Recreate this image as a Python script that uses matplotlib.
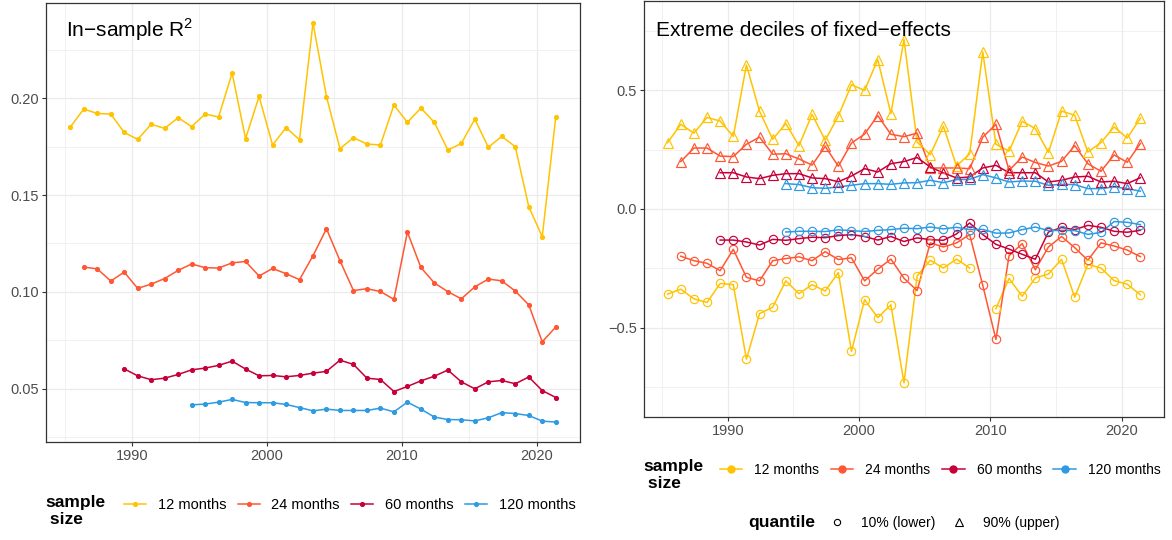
import numpy as np
import matplotlib
matplotlib.use("Agg")
import matplotlib.pyplot as plt
from matplotlib.lines import Line2D

plt.rcParams["font.family"] = ["Liberation Sans", "DejaVu Sans"]
plt.rcParams["mathtext.fontset"] = "custom"
plt.rcParams["mathtext.rm"] = "Liberation Sans"

# ---- data ----
sizes = ["12 months", "24 months", "60 months", "120 months"]
colors = ["#FFC300", "#FF5733", "#C70039", "#2E9AE2"]
first_year = [1985, 1986, 1989, 1994]

r2_12 = [0.1852, 0.1945, 0.1922, 0.1919, 0.1824, 0.1788, 0.1866, 0.1845, 0.1900, 0.1854,
         0.1919, 0.1904, 0.2131, 0.1792, 0.2010, 0.1759, 0.1849, 0.1786, 0.2390, 0.2009,
         0.1740, 0.1797, 0.1764, 0.1759, 0.1966, 0.1876, 0.1950, 0.1876, 0.1733, 0.1767,
         0.1893, 0.1747, 0.1804, 0.1750, 0.1440, 0.1285, 0.1902]
r2_24 = [0.1128, 0.1119, 0.1056, 0.1102, 0.1018, 0.1040, 0.1069, 0.1111, 0.1144, 0.1125,
         0.1123, 0.1150, 0.1157, 0.1082, 0.1121, 0.1094, 0.1063, 0.1187, 0.1326, 0.1161,
         0.1007, 0.1016, 0.1002, 0.0961, 0.1309, 0.1126, 0.1046, 0.1001, 0.0964, 0.1026,
         0.1066, 0.1057, 0.1004, 0.0933, 0.0742, 0.0818]
r2_60 = [0.0602, 0.0566, 0.0546, 0.0554, 0.0573, 0.0597, 0.0606, 0.0620, 0.0642, 0.0601,
         0.0566, 0.0568, 0.0561, 0.0568, 0.0580, 0.0589, 0.0647, 0.0625, 0.0554, 0.0547,
         0.0485, 0.0511, 0.0540, 0.0564, 0.0596, 0.0535, 0.0499, 0.0535, 0.0542, 0.0525,
         0.0560, 0.0490, 0.0454]
r2_120 = [0.0416, 0.0420, 0.0430, 0.0444, 0.0428, 0.0427, 0.0427, 0.0418, 0.0402, 0.0385,
          0.0394, 0.0387, 0.0387, 0.0387, 0.0399, 0.0380, 0.0430, 0.0394, 0.0353, 0.0340,
          0.0339, 0.0333, 0.0349, 0.0376, 0.0371, 0.0361, 0.0332, 0.0327]

# 90% (upper) decile of fixed effects
hi_12 = [0.280, 0.357, 0.320, 0.386, 0.371, 0.306, 0.607, 0.412, 0.294, 0.360,
         0.267, 0.399, 0.290, 0.392, 0.524, 0.500, 0.630, 0.402, 0.714, 0.282,
         0.229, 0.349, 0.181, 0.233, 0.662, 0.273, 0.244, 0.370, 0.339, 0.238,
         0.413, 0.395, 0.240, 0.280, 0.346, 0.299, 0.383]
hi_24 = [0.200, 0.257, 0.257, 0.223, 0.221, 0.273, 0.303, 0.231, 0.233, 0.211,
         0.185, 0.264, 0.180, 0.278, 0.316, 0.394, 0.315, 0.305, 0.320, 0.173,
         0.173, 0.173, 0.170, 0.303, 0.357, 0.163, 0.219, 0.196, 0.181, 0.201,
         0.267, 0.191, 0.159, 0.228, 0.197, 0.276]
hi_60 = [0.153, 0.153, 0.135, 0.128, 0.142, 0.149, 0.149, 0.131, 0.128, 0.115,
         0.139, 0.170, 0.156, 0.191, 0.200, 0.217, 0.177, 0.152, 0.131, 0.135,
         0.173, 0.184, 0.153, 0.153, 0.153, 0.114, 0.121, 0.135, 0.138, 0.114,
         0.117, 0.107, 0.132]
hi_120 = [0.107, 0.103, 0.090, 0.087, 0.093, 0.100, 0.107, 0.107, 0.104, 0.110,
          0.111, 0.121, 0.111, 0.124, 0.125, 0.145, 0.131, 0.114, 0.118, 0.117,
          0.100, 0.104, 0.103, 0.086, 0.086, 0.093, 0.086, 0.075]

# 10% (lower) decile; nan = value outside the plotted range
lo_12 = [-0.359, -0.338, -0.379, -0.394, -0.314, -0.319, -0.633, -0.441, -0.414, -0.303,
         -0.357, -0.319, -0.346, -0.268, -0.600, -0.382, -0.458, -0.404, -0.733, -0.282,
         -0.216, -0.249, -0.211, -0.249, np.nan, -0.420, -0.293, -0.368, -0.291, -0.274,
         -0.212, -0.372, -0.234, -0.249, -0.302, -0.317, -0.362]
lo_24 = [-0.199, -0.218, -0.229, -0.260, -0.170, -0.288, -0.303, -0.218, -0.209, -0.202,
         -0.218, -0.180, -0.213, -0.206, -0.303, -0.254, -0.211, -0.292, -0.344, -0.143,
         -0.160, -0.143, -0.108, -0.322, -0.550, -0.197, -0.146, -0.256, -0.160, -0.116,
         -0.163, -0.216, -0.143, -0.156, -0.173, -0.201]
lo_60 = [-0.131, -0.131, -0.139, -0.152, -0.128, -0.132, -0.125, -0.119, -0.121, -0.112,
         -0.108, -0.116, -0.131, -0.116, -0.137, -0.122, -0.129, -0.132, -0.105, -0.059,
         -0.108, -0.149, -0.169, -0.191, -0.212, -0.097, -0.078, -0.087, -0.069, -0.077,
         -0.094, -0.098, -0.090]
lo_120 = [-0.097, -0.094, -0.094, -0.095, -0.088, -0.091, -0.095, -0.090, -0.087, -0.081,
          -0.083, -0.076, -0.084, -0.077, -0.087, -0.086, -0.102, -0.101, -0.087, -0.076,
          -0.091, -0.090, -0.091, -0.107, -0.099, -0.053, -0.056, -0.066]

r2 = [r2_12, r2_24, r2_60, r2_120]
hi = [hi_12, hi_24, hi_60, hi_120]
lo = [lo_12, lo_24, lo_60, lo_120]

x_ticks = [1990, 2000, 2010, 2020]
left_yticks = [0.05, 0.10, 0.15, 0.20]
left_ylabels = ["0.05", "0.10", "0.15", "0.20"]
right_yticks = [-0.5, 0.0, 0.5]
right_ylabels = ["\u22120.5", "0.0", "0.5"]
quantiles = ["10% (lower)", "90% (upper)"]


def xs(k, n):
    # observations sit a little after the start of each year
    return np.arange(first_year[k], first_year[k] + n) + 0.42


def style_axes(ax):
    ax.set_facecolor("white")
    for s in ax.spines.values():
        s.set_color("#333333")
        s.set_linewidth(0.9)
    ax.set_xticks(x_ticks)
    ax.set_xticks([1985, 1995, 2005, 2015], minor=True)
    ax.grid(True, which="major", color="#EBEBEB", lw=0.9)
    ax.grid(True, which="minor", color="#EBEBEB", lw=0.5)
    ax.set_axisbelow(True)
    ax.tick_params(which="major", length=2.7, width=0.8, color="#333333",
                   labelcolor="#4D4D4D", labelsize=10.5, pad=2.5)
    ax.tick_params(which="minor", length=0)
    ax.set_xlim(1983.62, 2023.22)


W, H = 1172, 540
fig = plt.figure(figsize=(W / 100, H / 100), dpi=100)

# ---- left panel: in-sample R^2 ----
ax1 = fig.add_axes([46 / W, 1 - 442 / H, 534 / W, 439 / H])
style_axes(ax1)
for k in range(4):
    ax1.plot(xs(k, len(r2[k])), r2[k], color=colors[k], lw=1.1,
             marker="o", ms=2.7, zorder=3)
ax1.set_yticks(left_yticks)
ax1.set_yticklabels(left_ylabels)
ax1.set_yticks([0.025, 0.075, 0.125, 0.175, 0.225], minor=True)
ax1.set_ylim(0.0224, 0.2493)
fig.text(66 / W, 1 - 37 / H, "In\u2212sample R$^2$", fontsize=15, va="baseline")

# ---- right panel: extreme deciles ----
ax2 = fig.add_axes([644 / W, 1 - 417 / H, 520 / W, 416 / H])
style_axes(ax2)
for k in range(4):
    ax2.plot(xs(k, len(lo[k])), lo[k], color=colors[k], lw=1.1, zorder=3)
    ax2.plot(xs(k, len(hi[k])), hi[k], color=colors[k], lw=1.1, zorder=3)
for k in range(4):
    ax2.plot(xs(k, len(lo[k])), lo[k], ls="none", marker="o", ms=6.0, mfc="none",
             mec=colors[k], mew=0.85, zorder=4)
    ax2.plot(xs(k, len(hi[k])), hi[k], ls="none", marker="^", ms=6.8, mfc="none",
             mec=colors[k], mew=0.85, zorder=4)
ax2.set_yticks(right_yticks)
ax2.set_yticklabels(right_ylabels)
ax2.set_yticks([-0.75, -0.25, 0.25, 0.75], minor=True)
ax2.set_ylim(-0.877, 0.877)
fig.text(656 / W, 1 - 36 / H, "Extreme deciles of fixed\u2212effects", fontsize=15,
         va="baseline")

# ---- legends ----
h_left = [Line2D([], [], color=c, lw=1.1, marker="o", ms=2.7) for c in colors]
fig.text(45 / W, 1 - 502 / H, "sample", fontsize=12.5, fontweight="bold", va="center")
fig.text(45 / W, 1 - 520 / H, " size", fontsize=12.5, fontweight="bold", va="center")
fig.legend(h_left, sizes, loc="center left", bbox_to_anchor=(124 / W, 1 - 505 / H),
           ncol=4, frameon=False, fontsize=10.5, borderpad=0, borderaxespad=0,
           handlelength=1.5, handletextpad=0.8, columnspacing=0.8)

h_right = [Line2D([], [], color=c, lw=1.1, marker="o", ms=5) for c in colors]
fig.text(643 / W, 1 - 466 / H, "sample", fontsize=12.5, fontweight="bold", va="center")
fig.text(643 / W, 1 - 484 / H, " size", fontsize=12.5, fontweight="bold", va="center")
fig.legend(h_right, sizes, loc="center left", bbox_to_anchor=(720 / W, 1 - 470 / H),
           ncol=4, frameon=False, fontsize=10, borderpad=0, borderaxespad=0,
           handlelength=1.6, handletextpad=0.86, columnspacing=0.86)

h_shape = [Line2D([], [], ls="none", marker="o", ms=4.5, mfc="none", mec="black", mew=0.8),
           Line2D([], [], ls="none", marker="^", ms=5.2, mfc="none", mec="black", mew=0.8)]
fig.text(748 / W, 1 - 523 / H, "quantile", fontsize=12.5, fontweight="bold", va="center")
fig.legend(h_shape, quantiles, loc="center left", bbox_to_anchor=(829 / W, 1 - 523 / H),
           ncol=2, frameon=False, fontsize=10, borderpad=0, borderaxespad=0,
           handlelength=1.2, handletextpad=1.1, columnspacing=1.1)

fig.savefig("out.png", dpi=100, facecolor="white")
